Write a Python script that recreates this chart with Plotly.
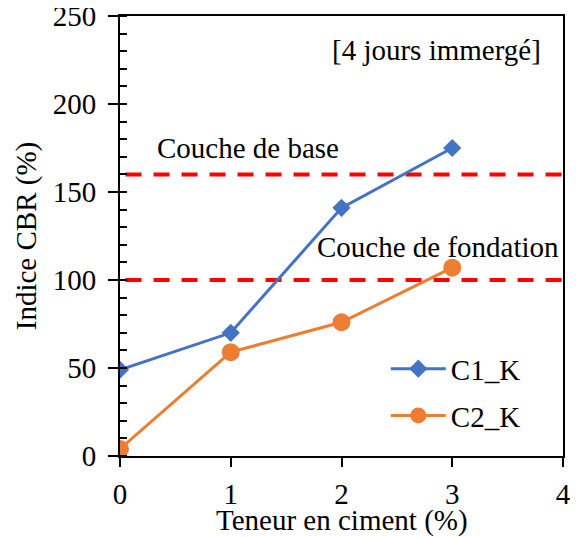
import plotly.graph_objects as go

teneur = [0, 1, 2, 3]
c1_k = [49, 70, 141, 175]
c2_k = [4, 59, 76, 107]
seuil_x = [0.05, 4]
seuil_base = [160, 160]
seuil_fondation = [100, 100]

FONT = "Liberation Serif"
FS = 29
fig = go.Figure()
fig.add_trace(go.Scatter(x=seuil_x, y=seuil_base, mode="lines", showlegend=False,
                         line=dict(color="#FF0000", width=4, dash="16px,12px"), hoverinfo="skip"))
fig.add_trace(go.Scatter(x=seuil_x, y=seuil_fondation, mode="lines", showlegend=False,
                         line=dict(color="#FF0000", width=4, dash="16px,12px"), hoverinfo="skip"))
fig.add_trace(go.Scatter(x=teneur, y=c1_k, mode="lines+markers", name="C1_K",
                         legendgroup="a",
                         line=dict(color="#4472C4", width=3),
                         marker=dict(symbol="diamond", size=14, color="#4472C4")))
fig.add_trace(go.Scatter(x=teneur, y=c2_k, mode="lines+markers", name="C2_K",
                         legendgroup="b",
                         line=dict(color="#ED7D31", width=3),
                         marker=dict(symbol="circle", size=18, color="#ED7D31")))

fig.add_annotation(x=1.156, y=175, text="Couche de base", showarrow=False,
                   font=dict(family=FONT, size=FS, color="black"))
fig.add_annotation(x=2.87, y=119, text="Couche de fondation", showarrow=False,
                   font=dict(family=FONT, size=FS, color="black"))
fig.add_annotation(x=2.86, y=230.5, text="[4 jours immergé]", showarrow=False,
                   font=dict(family=FONT, size=FS, color="black"))
fig.add_annotation(xref="paper", yref="paper", x=0.5, y=-0.147,
                   xanchor="center", yanchor="middle",
                   text="Teneur en ciment (%)", showarrow=False,
                   font=dict(family=FONT, size=FS, color="black"))

# page body adds an 8px offset; compensate in size and margins
fig.update_layout(
    width=570, height=529,
    margin=dict(l=112, r=15, t=8, b=81),
    paper_bgcolor="white", plot_bgcolor="white",
    font=dict(family=FONT, size=FS, color="black"),
    legend=dict(x=0.6, y=0.256, xanchor="left", yanchor="top",
                bgcolor="rgba(0,0,0,0)", font=dict(size=FS), itemwidth=55,
                traceorder="grouped", tracegroupgap=6),
    showlegend=True,
)
fig.update_xaxes(range=[0, 4], dtick=1, showgrid=False, zeroline=False,
                 showline=True, linecolor="black", linewidth=2, mirror=True,
                 ticks="outside", ticklen=9, tickwidth=2, tickcolor="black",
                 ticklabelstandoff=2, automargin=False, ticklabeloverflow="allow")
fig.update_yaxes(range=[0, 250], dtick=50, showgrid=False, zeroline=False,
                 showline=True, linecolor="black", linewidth=2, mirror=True,
                 ticks="outside", ticklen=10, tickwidth=2, tickcolor="black",
                 minor=dict(dtick=10, ticks="inside", ticklen=7, tickwidth=2,
                            tickcolor="black", showgrid=False),
                 ticklabelstandoff=6, automargin=False, ticklabeloverflow="allow",
                 title=dict(text="Indice CBR (%)", standoff=8,
                            font=dict(size=FS)))

fig.write_html("out.html")
